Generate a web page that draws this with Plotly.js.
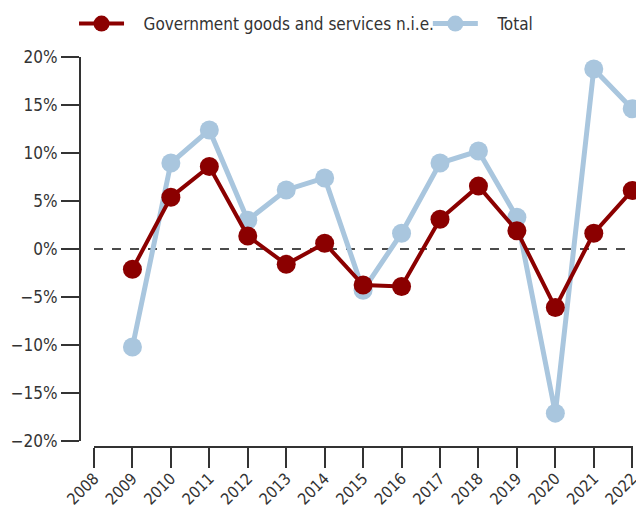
<!DOCTYPE html>
<html>
<head>
<meta charset="utf-8">
<script src="https://cdn.plot.ly/plotly-3.0.1.min.js"></script>
<style>html,body{margin:0;padding:0;background:#fff;}#chart{width:636px;height:510px;}</style>
</head>
<body>
<div id="chart"></div>
<script>
const years = [2009, 2010, 2011, 2012, 2013, 2014, 2015, 2016, 2017, 2018, 2019, 2020, 2021, 2022];
const govValues = [-2.1, 5.4, 8.6, 1.35, -1.6, 0.6, -3.75, -3.9, 3.1, 6.55, 1.9, -6.1, 1.65, 6.1];
const totalValues = [-10.2, 8.95, 12.4, 3.0, 6.15, 7.4, -4.3, 1.65, 8.95, 10.2, 3.3, -17.1, 18.75, 14.6];
const xTickYears = [2008, 2009, 2010, 2011, 2012, 2013, 2014, 2015, 2016, 2017, 2018, 2019, 2020, 2021, 2022];
const yTickVals = [-20, -15, -10, -5, 0, 5, 10, 15, 20];
const yTickText = ['\u221220%', '\u221215%', '\u221210%', '\u22125%', '0%', '5%', '10%', '15%', '20%'];
const seriesNames = ['Government goods and services n.i.e.', 'Total'];

const FONT = '"Liberation Sans Narrow", "DejaVu Sans Condensed", "Arial Narrow", sans-serif';
const TXT = '#333333';
const PAD = '\u00a0\u00a0\u00a0';

const traces = [
  {
    x: years, y: totalValues, name: PAD + seriesNames[1], type: 'scatter', mode: 'lines+markers',
    line: {color: '#a9c6de', width: 5},
    marker: {color: '#a9c6de', size: 19},
    cliponaxis: false, legend: 'legend2'
  },
  {
    x: years, y: govValues, name: PAD + seriesNames[0], type: 'scatter', mode: 'lines+markers',
    line: {color: '#8b0000', width: 4},
    marker: {color: '#8b0000', size: 19},
    cliponaxis: false, legend: 'legend'
  }
];

const legendBase = {
  orientation: 'h', xanchor: 'left', yanchor: 'middle', y: 1.0846,
  font: {family: FONT, size: 17, color: TXT},
  bgcolor: 'rgba(0,0,0,0)', itemwidth: 45
};

const layout = {
  width: 636, height: 510,
  margin: {l: 80, r: 3, t: 57, b: 63},
  paper_bgcolor: '#ffffff', plot_bgcolor: '#ffffff',
  font: {family: FONT, size: 17, color: TXT},
  showlegend: true,
  legend: Object.assign({}, legendBase, {x: -0.0108}),
  legend2: Object.assign({}, legendBase, {x: 0.629}),
  xaxis: {
    domain: [0.0253, 1],
    range: [2008, 2022.02],
    anchor: 'free', position: 0,
    tickvals: xTickYears, ticktext: xTickYears.map(String),
    tickangle: -45,
    ticklabeloverflow: 'allow',
    ticklabelstandoff: -5,
    showgrid: false, zeroline: false,
    showline: true, linecolor: '#333333', linewidth: 2,
    ticks: 'outside', ticklen: 20, tickwidth: 2, tickcolor: '#333333',
    tickfont: {family: FONT, size: 16, color: TXT}
  },
  yaxis: {
    domain: [0.0154, 1],
    range: [-20, 20],
    anchor: 'free', position: 0,
    tickvals: yTickVals, ticktext: yTickText,
    showgrid: false, zeroline: false,
    showline: true, linecolor: '#333333', linewidth: 2,
    ticks: 'outside', ticklen: 18, tickwidth: 2, tickcolor: '#333333',
    tickfont: {family: FONT, size: 17, color: TXT}
  },
  shapes: [{
    type: 'line', xref: 'x', yref: 'y', x0: 2008, x1: 2022, y0: 0, y1: 0,
    line: {color: '#111111', width: 1.5, dash: 'dash'}, layer: 'below'
  }]
};

Plotly.newPlot('chart', traces, layout, {staticPlot: true, displayModeBar: false});
</script>
</body>
</html>
